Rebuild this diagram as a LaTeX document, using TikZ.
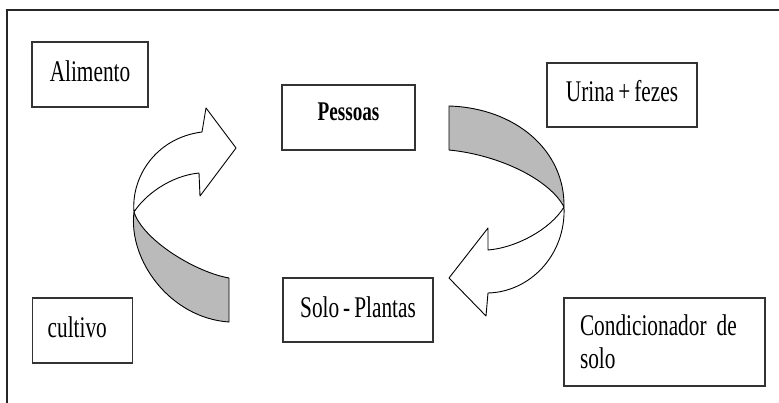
\documentclass[tikz,border=0pt]{standalone}
\usepackage{fontspec}
\setmainfont{Liberation Serif}[FakeStretch=0.71, WordSpace=0.75]
\begin{document}
\begin{tikzpicture}[x=1pt,y=-1pt,
  box/.style={draw=black!80, line width=1.2pt, fill=white, inner sep=0pt,
              font=\fontsize{30}{33}\selectfont},
  oneline/.style={text height=21pt, text depth=7pt},
  ribbon/.style={draw=black, line width=0.9pt, line join=round},
  grayband/.style={ribbon, fill=black!27},
  whiteband/.style={ribbon, fill=white}]
\useasboundingbox (0,0) rectangle (779,403);
% outer frame
\draw[line width=1.8pt, black!85] (7,403) -- (7,10) -- (779,10);
% boxes
\node[box, oneline, minimum width=116pt, minimum height=65pt] (alimento) at (90,74.5) {Alimento};
\node[box, minimum width=133pt, minimum height=65pt,
      font=\bfseries\fontsize{27}{30}\selectfont, text height=17pt, text depth=10pt]
      (pessoas) at (348.5,117.5) {Pessoas};
\node[box, oneline, minimum width=150pt, minimum height=64pt] (urina) at (622,95) {Urina + fezes};
\node[box, oneline, minimum width=150pt, minimum height=64pt] (solo) at (358,310) {Solo - Plantas};
\node[box, oneline, minimum width=100pt, minimum height=65pt, text width=70pt,
      inner xsep=15pt, align=left] (cultivo) at (82.7,330.5) {cultivo};
\node[box, minimum width=201pt, minimum height=88pt, text width=169pt, inner xsep=16pt,
      align=left] (cond) at (664.5,342) {\mbox{Condicionador de}\\solo};
% left curved arrow (cultivo -> pessoas)
\coordinate (LX) at (134,212);
\filldraw[grayband] (229,278) .. controls (195,272) and (143,240) .. (LX)
  .. controls (128,260) and (170,318) .. (229,322) -- cycle;
\filldraw[whiteband] (LX) .. controls (145,195) and (170,176) .. (199,173)
  -- (200,196) -- (236,148) -- (206,108) -- (202,132)
  .. controls (155,138) and (131,178) .. (LX) -- cycle;
% right curved arrow (pessoas -> solo)
\coordinate (RX) at (564,207);
\filldraw[grayband] (449,106) .. controls (515,108) and (565,150) .. (RX)
  .. controls (550,180) and (500,155) .. (449,150) -- cycle;
\filldraw[whiteband] (RX) .. controls (566,255) and (530,292) .. (488,293)
  -- (486,316) -- (449,278) -- (488,228) -- (488,250)
  .. controls (515,248) and (550,230) .. (RX) -- cycle;
\end{tikzpicture}
\end{document}
